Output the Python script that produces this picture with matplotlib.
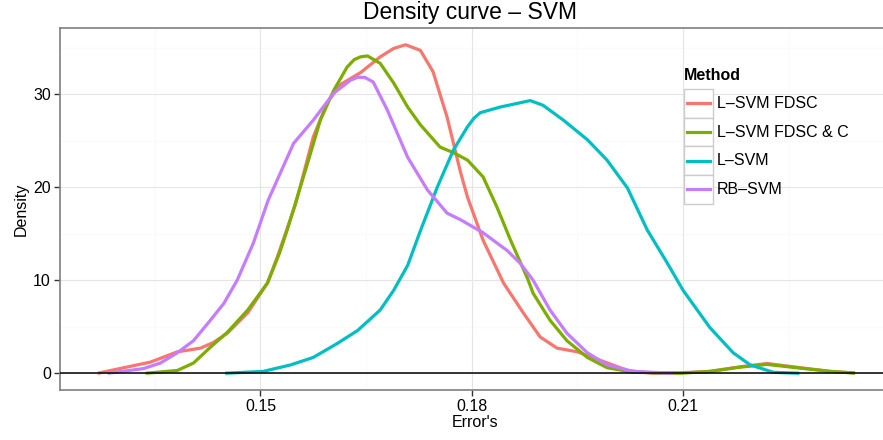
import matplotlib
matplotlib.use("Agg")
import matplotlib.pyplot as plt
from matplotlib.patches import Rectangle
from matplotlib.lines import Line2D

plt.rcParams['font.family'] = ['Liberation Sans', 'DejaVu Sans']

# density curves
fdsc_x = [0.1269, 0.1344, 0.1382, 0.1415, 0.1433, 0.1453, 0.1482, 0.1510, 0.1524, 0.1550,
          0.1575, 0.1595, 0.1613, 0.1642, 0.1670, 0.1689, 0.1706, 0.1727, 0.1745, 0.1765,
          0.1784, 0.1794, 0.1816, 0.1845, 0.1873, 0.1897, 0.1921, 0.1950, 0.1982, 0.2021,
          0.2057, 0.2096, 0.2138, 0.2181, 0.2219, 0.2266, 0.2309, 0.2344]
fdsc_y = [0.0, 1.2, 2.3, 2.7, 3.3, 4.3, 6.5, 9.7, 12.5, 18.2,
          25.4, 29.1, 31.0, 32.3, 34.0, 34.9, 35.3, 34.7, 32.4, 27.5,
          21.6, 18.9, 14.3, 9.7, 6.5, 3.9, 2.7, 2.3, 1.4, 0.3,
          0.0, 0.05, 0.2, 0.7, 1.05, 0.6, 0.2, 0.02]

fdscc_x = [0.1337, 0.1382, 0.1405, 0.1429, 0.1453, 0.1482, 0.1510, 0.1527, 0.1538, 0.1567,
           0.1585, 0.1604, 0.1623, 0.1633, 0.1642, 0.1652, 0.1670, 0.1689, 0.1709, 0.1727,
           0.1755, 0.1774, 0.1794, 0.1816, 0.1836, 0.1855, 0.1879, 0.1887, 0.1911, 0.1935,
           0.1964, 0.1992, 0.2029, 0.2096, 0.2138, 0.2181, 0.2219, 0.2266, 0.2309, 0.2344]
fdscc_y = [0.0, 0.3, 1.1, 2.8, 4.4, 6.8, 9.7, 12.9, 15.4, 22.6,
           27.2, 30.4, 32.9, 33.7, 34.0, 34.1, 33.3, 31.2, 28.6, 26.7,
           24.3, 23.7, 22.9, 21.1, 17.8, 14.3, 10.2, 8.6, 5.7, 3.5,
           1.7, 0.6, 0.1, 0.0, 0.2, 0.65, 0.95, 0.55, 0.2, 0.02]

lsvm_x = [0.1450, 0.1504, 0.1543, 0.1575, 0.1609, 0.1638, 0.1670, 0.1689, 0.1709, 0.1727,
          0.1751, 0.1774, 0.1794, 0.1803, 0.1812, 0.1840, 0.1883, 0.1901, 0.1930, 0.1964,
          0.1992, 0.2021, 0.2049, 0.2077, 0.2100, 0.2138, 0.2171, 0.2195, 0.2228, 0.2265]
lsvm_y = [0.0, 0.2, 0.9, 1.7, 3.2, 4.6, 6.8, 8.9, 11.6, 15.3,
          20.0, 24.0, 26.5, 27.4, 28.0, 28.6, 29.3, 28.8, 27.2, 25.1,
          22.9, 19.9, 15.4, 11.9, 8.9, 4.9, 2.2, 0.9, 0.1, 0.0]

rbsvm_x = [0.1283, 0.1334, 0.1358, 0.1382, 0.1405, 0.1429, 0.1448, 0.1467, 0.1490, 0.1511,
           0.1524, 0.1547, 0.1575, 0.1604, 0.1628, 0.1638, 0.1648, 0.1660, 0.1680, 0.1709,
           0.1737, 0.1765, 0.1784, 0.1816, 0.1850, 0.1869, 0.1887, 0.1911, 0.1935, 0.1964,
           0.1992, 0.2029, 0.2086]
rbsvm_y = [0.0, 0.5, 1.1, 2.2, 3.5, 5.7, 7.5, 10.0, 14.0, 18.6,
           20.8, 24.7, 27.2, 30.1, 31.5, 31.8, 31.8, 31.3, 28.3, 23.2,
           19.7, 17.2, 16.5, 15.1, 13.2, 11.8, 10.0, 6.8, 4.3, 2.2,
           0.9, 0.2, 0.0]

methods = ["L\u2013SVM FDSC", "L\u2013SVM FDSC & C", "L\u2013SVM", "RB\u2013SVM"]
colors = ["#F8766D", "#7CAE00", "#00BFC4", "#C77CFF"]
curves = [(fdsc_x, fdsc_y), (fdscc_x, fdscc_y), (lsvm_x, lsvm_y), (rbsvm_x, rbsvm_y)]

x_major = [0.15, 0.18, 0.21]
x_minor = [0.135, 0.165, 0.195, 0.225]
y_major = [0, 10, 20, 30]
y_minor = [5, 15, 25, 35]

W, H = 883, 440
fig = plt.figure(figsize=(W / 100, H / 100), dpi=100)
ax = fig.add_axes([60 / W, 1 - 390 / H, (891 - 60) / W, (390 - 28) / H])

for xm in x_minor:
    ax.axvline(xm, color="#FAFAFA", lw=0.8, zorder=0)
for ym in y_minor:
    ax.axhline(ym, color="#FAFAFA", lw=0.8, zorder=0)
for xm in x_major:
    ax.axvline(xm, color="#E5E5E5", lw=0.8, zorder=0)
for ym in y_major:
    ax.axhline(ym, color="#E5E5E5", lw=0.8, zorder=0)

for (xs, ys), c, m in zip(curves, colors, methods):
    ax.plot(xs, ys, color=c, lw=2.3, label=m, solid_capstyle="butt",
            solid_joinstyle="round", zorder=2)

ax.axhline(0, color="black", lw=1.1, zorder=3)

ax.set_xlim(0.12155, 0.2395)
ax.set_ylim(-1.8, 37.1)
ax.set_xticks(x_major)
ax.set_xticklabels(["0.15", "0.18", "0.21"])
ax.set_yticks(y_major)
ax.tick_params(direction="out", length=4.5, width=1, color="#333333",
               labelsize=11.5, pad=2, labelcolor="black")
for s in ax.spines.values():
    s.set_color("#7F7F7F")
    s.set_linewidth(1.2)

ax.set_xlabel("Error's", fontsize=11.5, labelpad=1)
ax.set_ylabel("Density", fontsize=11.5, labelpad=3)
fig.text(470 / W, 1 - 13 / H, "Density curve \u2013 SVM", fontsize=16.5,
         ha="center", va="center")

# legend drawn by hand to get ggplot-style key boxes
fig.text(684 / W, 1 - 76 / H, "Method", fontsize=11.5, fontweight="bold",
         ha="left", va="center")
key_top = 89
key_h = 28.7
for i, (m, c) in enumerate(zip(methods, colors)):
    top = key_top + i * key_h
    fig.add_artist(Rectangle((684 / W, 1 - (top + key_h) / H), 29 / W, key_h / H,
                             transform=fig.transFigure, facecolor="white",
                             edgecolor="#CCCCCC", lw=1.0, zorder=5))
    cy = 1 - (top + key_h / 2) / H
    fig.add_artist(Line2D([687 / W, 710 / W], [cy, cy], transform=fig.transFigure,
                          color=c, lw=2.3, zorder=6))
    fig.text(717 / W, cy, m, fontsize=11.5, ha="left", va="center", zorder=6)

fig.savefig("out.png", dpi=100)
